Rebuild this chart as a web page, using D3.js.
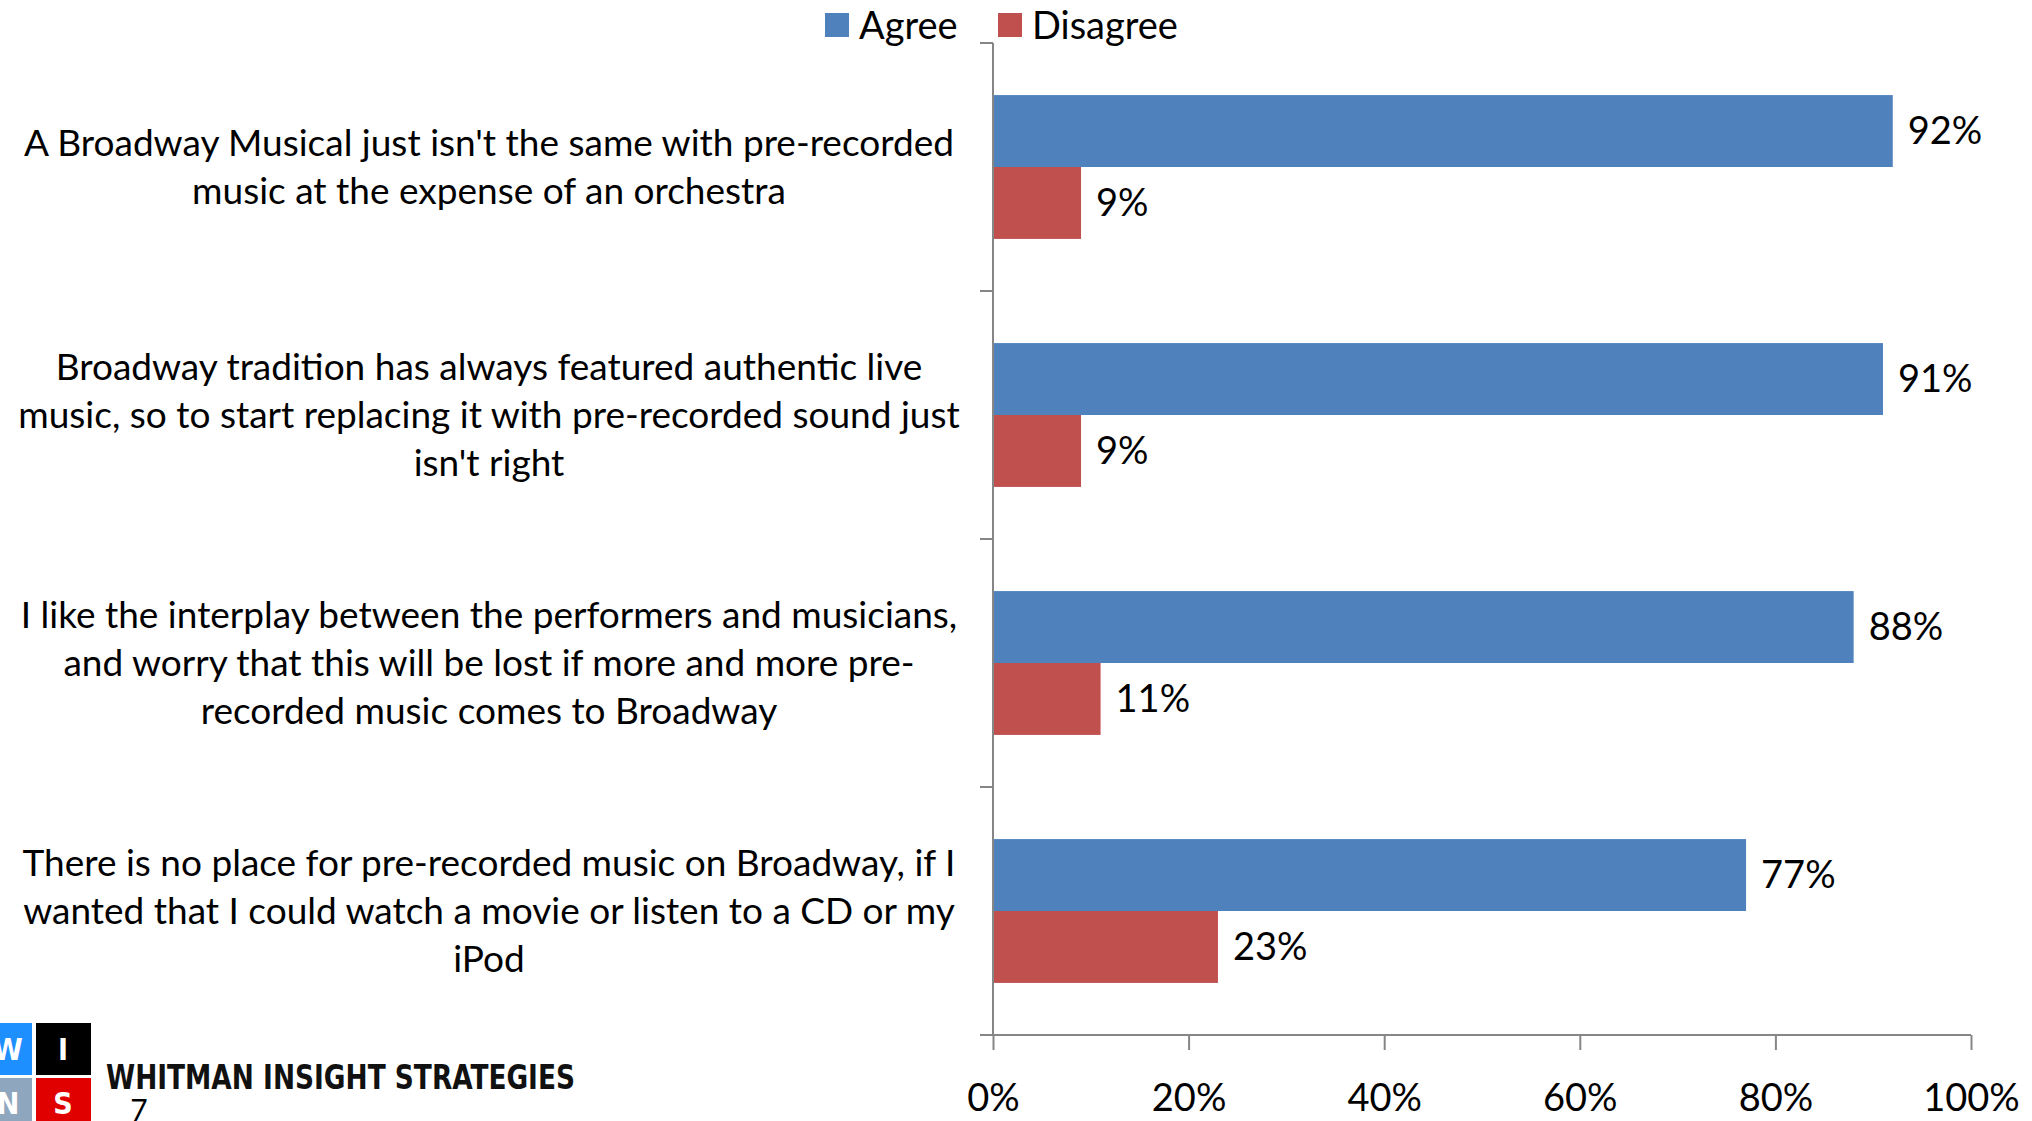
<!DOCTYPE html>
<html><head><meta charset="utf-8">
<script src="https://cdn.jsdelivr.net/npm/d3@7"></script>
<style>
html,body{margin:0;padding:0;background:#fff;overflow:hidden;}
svg{display:block;}
</style></head>
<body>
<svg id="chart" width="2032" height="1121"></svg>
<script>
const categories = [
  ["A Broadway Musical just isn't the same with pre-recorded", "music at the expense of an orchestra"],
  ["Broadway tradition has always featured authentic live", "music, so to start replacing it with pre-recorded sound just", "isn't right"],
  ["I like the interplay between the performers and musicians,", "and worry that this will be lost if more and more pre-", "recorded music comes to Broadway"],
  ["There is no place for pre-recorded music on Broadway, if I", "wanted that I could watch a movie or listen to a CD or my", "iPod"]
];
const seriesNames = ["Agree", "Disagree"];
const agree = [0.92, 0.91, 0.88, 0.77];
const disagree = [0.09, 0.09, 0.11, 0.23];
const xTicks = [0, 0.2, 0.4, 0.6, 0.8, 1.0];
const colors = ["#4F81BD", "#C0504D"];

const FONT = "Lato, 'Open Sans', sans-serif";
const svg = d3.select("#chart");
const x0 = 993, x1 = 1971, yTop = 43, yBot = 1035;
const x = d3.scaleLinear().domain([0, 1]).range([x0, x1]);
const ids = categories.map((c, i) => i);
const y = d3.scaleBand().domain(ids).range([yTop, yBot]).paddingInner(0.42).paddingOuter(0.21);
const ySub = d3.scaleBand().domain([0, 1]).range([0, y.bandwidth()]);
const values = [agree, disagree];

// bars
const g = svg.append("g");
values.forEach((vals, s) => {
  g.selectAll(".bar" + s).data(vals).enter().append("rect")
    .attr("x", x(0))
    .attr("y", (d, i) => y(i) + ySub(s))
    .attr("width", d => x(d) - x(0))
    .attr("height", ySub.bandwidth())
    .attr("fill", colors[s]);
  g.selectAll(".lab" + s).data(vals).enter().append("text")
    .attr("x", d => x(d) + 15)
    .attr("y", (d, i) => y(i) + ySub(s) + ySub.bandwidth() / 2)
    .attr("dy", "0.35em")
    .attr("font-family", FONT).attr("font-size", 38).attr("fill", "#000")
    .text(d => Math.round(d * 100) + "%");
});

// y axis line and ticks
const axisColor = "#868686";
svg.append("line").attr("x1", x0).attr("x2", x0).attr("y1", yTop).attr("y2", yBot)
  .attr("stroke", axisColor).attr("stroke-width", 2);
const step = y.step();
const bounds = ids.map(i => y(i) - step * y.paddingInner() / 2);
bounds.forEach(b => {
  svg.append("line").attr("x1", x0 - 13).attr("x2", x0).attr("y1", b).attr("y2", b)
    .attr("stroke", axisColor).attr("stroke-width", 2);
});

// x axis
const xAxis = svg.append("g").attr("transform", `translate(0,${yBot})`)
  .call(d3.axisBottom(x).tickValues(xTicks).tickFormat(d3.format(".0%")).tickSize(15).tickSizeOuter(0));
xAxis.select(".domain").attr("stroke", axisColor).attr("stroke-width", 2)
  .attr("d", `M${x0 - 13},0H${x1}`);
xAxis.selectAll(".tick line").attr("stroke", axisColor).attr("stroke-width", 2);
xAxis.selectAll(".tick text").attr("font-family", FONT).attr("font-size", 38).attr("fill", "#000")
  .attr("y", 63).attr("dy", "0.35em");

// category labels
const labelCx = 489, lineH = 48;
categories.forEach((lines, i) => {
  const cy = y(i) + y.bandwidth() / 2;
  const n = lines.length;
  lines.forEach((t, k) => {
    svg.append("text")
      .attr("x", labelCx)
      .attr("y", cy + (k - (n - 1) / 2) * lineH)
      .attr("dy", "0.35em")
      .attr("text-anchor", "middle")
      .attr("font-family", FONT).attr("font-size", 37).attr("fill", "#000")
      .text(t);
  });
});

// legend
const leg = [{x: 825}, {x: 998}];
seriesNames.forEach((name, s) => {
  svg.append("rect").attr("x", leg[s].x).attr("y", 13).attr("width", 24).attr("height", 24).attr("fill", colors[s]);
  svg.append("text").attr("x", leg[s].x + 34).attr("y", 26).attr("dy", "0.35em")
    .attr("font-family", FONT).attr("font-size", 38).attr("fill", "#000").text(name);
});

// logo
const logo = svg.append("g");
logo.append("rect").attr("x", -24).attr("y", 1023).attr("width", 56).attr("height", 52).attr("fill", "#1e8fff");
logo.append("rect").attr("x", 36).attr("y", 1023).attr("width", 55).attr("height", 52).attr("fill", "#000");
logo.append("rect").attr("x", -24).attr("y", 1078).attr("width", 56).attr("height", 50).attr("fill", "#8fa6bf");
logo.append("rect").attr("x", 36).attr("y", 1078).attr("width", 55).attr("height", 50).attr("fill", "#e00000");
const lf = "'Liberation Sans Narrow', 'DejaVu Sans Condensed', sans-serif";
[["W", 8, 1049], ["I", 63, 1049], ["N", 8, 1103], ["S", 63, 1103]].forEach(([t, tx, ty]) => {
  logo.append("text").attr("x", tx).attr("y", ty).attr("dy", "0.35em").attr("text-anchor", "middle")
    .attr("font-family", lf).attr("font-weight", "bold").attr("font-size", 30).attr("fill", "#fff").text(t);
});
logo.append("text").attr("x", 106).attr("y", 1077).attr("dy", "0.35em")
  .attr("font-family", lf).attr("font-weight", "bold").attr("font-size", 34)
  .attr("textLength", 469).attr("lengthAdjust", "spacingAndGlyphs").attr("fill", "#111")
  .text("WHITMAN INSIGHT STRATEGIES");
logo.append("text").attr("x", 139).attr("y", 1110).attr("dy", "0.35em").attr("text-anchor", "middle")
  .attr("font-family", FONT).attr("font-size", 30).attr("fill", "#000").text("7");
</script>
</body></html>
